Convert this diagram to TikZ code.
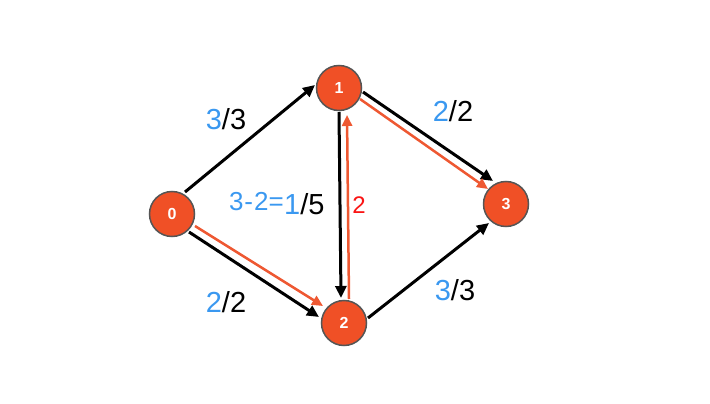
\documentclass[tikz,border=0pt]{standalone}
\usepackage{fontspec}
\setmainfont{Liberation Sans}
\usetikzlibrary{arrows.meta,calc}
\definecolor{nodefill}{RGB}{240,80,38}
\definecolor{nodeborder}{RGB}{85,85,85}
\definecolor{flowred}{RGB}{238,88,50}
\definecolor{lblue}{RGB}{58,152,240}
\definecolor{textred}{RGB}{250,20,20}
\pgfdeclarelayer{bg}
\pgfsetlayers{bg,main}
\begin{document}
\begin{tikzpicture}[x=1pt,y=-1pt,
 vertex/.style={circle,fill=nodefill,draw=nodeborder,line width=1.5pt,minimum size=45pt,inner sep=0pt,text=white,font=\fontsize{16}{16}\selectfont\bfseries},
 blackedge/.style={draw=black,line width=3pt,-{Triangle[length=12pt,width=11pt]}},
 rededge/.style={draw=flowred,line width=2.5pt,-{Triangle[length=11pt,width=10pt]}},
 lbl/.style={inner sep=0pt,font=\fontsize{29}{29}\selectfont}]
\useasboundingbox (0,0) rectangle (710,404);
\node[vertex] (n0) at (172,214) {0};
\node[vertex] (n1) at (339,88) {1};
\node[vertex] (n2) at (344,323) {2};
\node[vertex] (n3) at (506,204) {3};
\begin{pgfonlayer}{bg}
\draw[blackedge] ($(n0)+(13,-22)$) -- ($(n1)+(-24,-3)$);
\draw[blackedge] ($(n1)+(0,24)$) -- ($(n2)+(-3,-25)$);
\draw[rededge] ($(n2)+(5,-24)$) -- ($(n1)+(8,27)$);
\draw[blackedge] ($(n1)+(24,4)$) -- ($(n3)+(-13,-23)$);
\draw[rededge] ($(n1)+(21,11)$) -- ($(n3)+(-18,-15)$);
\draw[blackedge] ($(n0)+(17,18)$) -- ($(n2)+(-25,-6)$);
\draw[rededge] ($(n0)+(23,12)$) -- ($(n2)+(-21,-17)$);
\draw[blackedge] ($(n2)+(24,-5)$) -- ($(n3)+(-17,19)$);
\end{pgfonlayer}
\node[lbl] (l01) at (226,119) {\textcolor{lblue}{3}/3};
\node[lbl] (l13) at (453,111) {\textcolor{lblue}{2}/2};
\node[lbl] (l02) at (226,302) {\textcolor{lblue}{2}/2};
\node[lbl] (l23) at (455,290) {\textcolor{lblue}{3}/3};
\node[inner sep=0pt,anchor=east,font=\fontsize{26}{26}\selectfont,text=lblue] (l12a) at (284,202) {3\kern1pt-\kern1pt2=};
\node[lbl,anchor=west] (l12b) at (284,204) {\textcolor{lblue}{1}/5};
\node[inner sep=0pt,font=\fontsize{24}{24}\selectfont,text=textred] (l21) at (359,205) {2};
\end{tikzpicture}
\end{document}
